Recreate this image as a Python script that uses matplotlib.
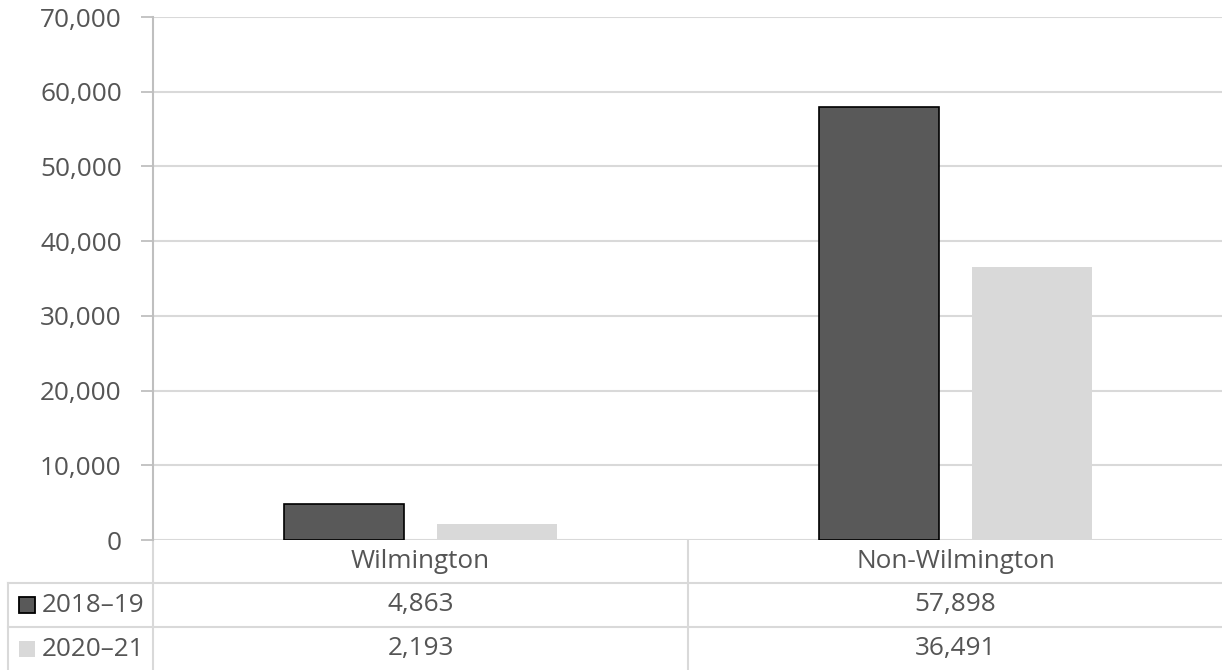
import numpy as np
import matplotlib.pyplot as plt
from matplotlib.patches import Rectangle

categories = ["Wilmington", "Non-Wilmington"]
series_names = ["2018\u201319", "2020\u201321"]
values_2018 = [4863, 57898]
values_2020 = [2193, 36491]

TEXT = "#555555"
GRID = "#D9D9D9"
DARK = "#595959"
LIGHT = "#D9D9D9"
FS = 18.8

plt.rcParams["font.family"] = ["Open Sans", "DejaVu Sans"]

W, H = 1222, 670
fig = plt.figure(figsize=(W / 100, H / 100), dpi=100)

# pixel layout
ax_left, ax_right, ax_top, ax_bottom = 153, 1223, 17, 540
ax = fig.add_axes([ax_left / W, 1 - ax_bottom / H,
                   (ax_right - ax_left) / W, (ax_bottom - ax_top) / H])

x = np.arange(len(categories))
bw = 0.226
ax.bar(x - 0.143, values_2018, bw, color=DARK, edgecolor="black", linewidth=1.2, zorder=3)
ax.bar(x + 0.143, values_2020, bw, color=LIGHT, edgecolor="none", zorder=3)

ax.set_xlim(-0.5, len(categories) - 0.5)
ax.set_ylim(0, 70000)
ax.set_yticks(np.arange(0, 70001, 10000))
ax.set_yticklabels([f"{v:,}" for v in range(0, 70001, 10000)])
ax.tick_params(axis="y", length=9, width=1.3, color="#BFBFBF", pad=13.5,
               labelsize=FS, labelcolor=TEXT)
ax.set_xticks([])
ax.grid(axis="y", color=GRID, linewidth=1.5, zorder=0)
for s in ["top", "right", "bottom"]:
    ax.spines[s].set_visible(False)
ax.spines["left"].set_color("#BFBFBF")
ax.spines["left"].set_linewidth(1.5)
ax.spines["left"].set_zorder(4)

# data table below the plot
tab = fig.add_axes([0, 0, 1, 1], zorder=-1)
tab.set_xlim(0, W)
tab.set_ylim(H, 0)
tab.axis("off")

col_w = (ax_right - ax_left) / len(categories)
col_edges = [ax_left + i * col_w for i in range(len(categories) + 1)]
row_y = [540, 583, 627, 671]
lw = 1.5
tab.plot([8, W], [row_y[1]] * 2, color=GRID, lw=lw)
tab.plot([8, W], [row_y[2]] * 2, color=GRID, lw=lw)
tab.plot([8, 8], [row_y[1], H], color=GRID, lw=lw)
for xe in col_edges[:-1]:
    tab.plot([xe, xe], [row_y[0], H], color=GRID, lw=lw)

for i, cat in enumerate(categories):
    cx = (col_edges[i] + col_edges[i + 1]) / 2
    tab.text(cx, (row_y[0] + row_y[1]) / 2, cat, ha="center", va="center",
             fontsize=FS, color=TEXT)
    for r, vals in enumerate([values_2018, values_2020]):
        tab.text(cx, (row_y[r + 1] + row_y[r + 2]) / 2, f"{vals[i]:,}",
                 ha="center", va="center", fontsize=FS, color=TEXT)

key_styles = [dict(facecolor=DARK, edgecolor="black", linewidth=1.3),
              dict(facecolor=LIGHT, edgecolor="none")]
for r, name in enumerate(series_names):
    yc = (row_y[r + 1] + row_y[r + 2]) / 2
    tab.add_patch(Rectangle((19, yc - 8), 16, 16, **key_styles[r]))
    tab.text(42, yc, name, ha="left", va="center", fontsize=FS, color=TEXT)

fig.savefig("out.png", dpi=100)
